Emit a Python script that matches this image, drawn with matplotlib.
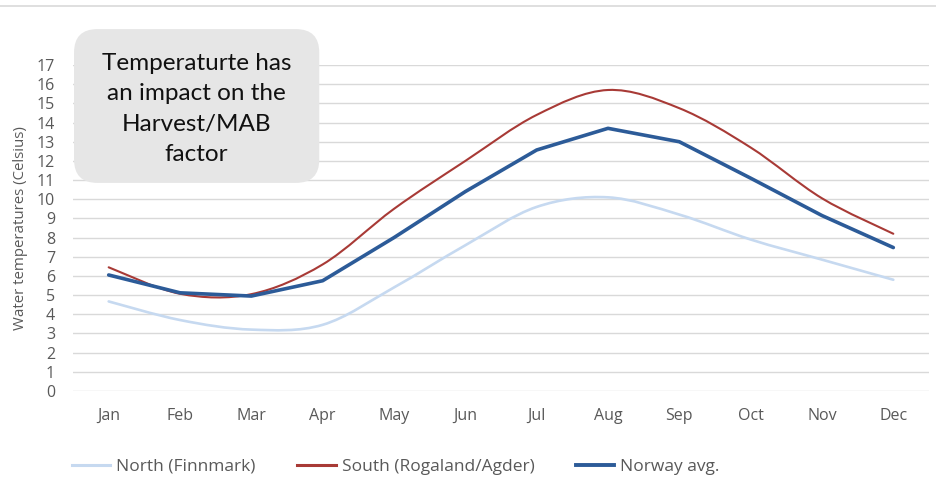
import matplotlib.pyplot as plt
import matplotlib.patches as mpatches
from matplotlib.path import Path
from matplotlib.lines import Line2D
import numpy as np

months = ['Jan', 'Feb', 'Mar', 'Apr', 'May', 'Jun', 'Jul', 'Aug', 'Sep', 'Oct', 'Nov', 'Dec']
north = [4.67, 3.7, 3.2, 3.45, 5.4, 7.6, 9.6, 10.1, 9.2, 7.9, 6.85, 5.8]
south = [6.45, 5.07, 5.05, 6.6, 9.5, 12.0, 14.4, 15.7, 14.75, 12.7, 10.05, 8.2]
norway = [6.05, 5.12, 4.95, 5.75, 8.0, 10.4, 12.57, 13.7, 13.0, 11.1, 9.15, 7.48]

c_north = '#c6d9f0'
c_south = '#a83a36'
c_norway = '#2c5b98'
grey = '#595959'

plt.rcParams['font.family'] = ['Open Sans', 'DejaVu Sans']


def smooth_path(xs, ys):
    # excel-like smoothed line: cubic bezier segments through the points
    pts = np.column_stack([xs, ys]).astype(float)
    n = len(pts)
    verts = [pts[0]]
    codes = [Path.MOVETO]
    for i in range(n - 1):
        p0 = pts[i - 1] if i > 0 else pts[i]
        p1 = pts[i]
        p2 = pts[i + 1]
        p3 = pts[i + 2] if i + 2 < n else pts[i + 1]
        c1 = p1 + (p2 - p0) / 6.0
        c2 = p2 - (p3 - p1) / 6.0
        verts += [c1, c2, p2]
        codes += [Path.CURVE4] * 3
    return Path(verts, codes)


fig = plt.figure(figsize=(9.36, 4.93), dpi=100)
ax = fig.add_axes([0.078, 0.207, 0.9145, 0.661])

x = np.arange(len(months))
ax.add_patch(mpatches.PathPatch(smooth_path(x, north), fill=False, edgecolor=c_north, lw=1.9,
                                capstyle='round', zorder=3))
ax.add_patch(mpatches.PathPatch(smooth_path(x, south), fill=False, edgecolor=c_south, lw=1.5,
                                capstyle='round', zorder=4))
ax.plot(x, norway, color=c_norway, lw=2.6, solid_capstyle='round', zorder=5)

ax.set_xlim(-0.5, 11.5)
ax.set_ylim(0, 17)
ax.set_yticks(range(0, 18))
ax.set_xticks(x)
ax.set_xticklabels(months)
ax.tick_params(axis='both', length=0, colors=grey, labelsize=11.5)
ax.tick_params(axis='x', pad=12)
ax.tick_params(axis='y', pad=13)
ax.grid(axis='y', color='#d9d9d9', lw=1)
ax.set_axisbelow(True)
for s in ax.spines.values():
    s.set_visible(False)
ax.set_ylabel('Water temperatures (Celsius)', color=grey, fontsize=10.8, labelpad=6)

# top frame line
fig.add_artist(Line2D([0, 1], [0.988, 0.988], color='#d9d9d9', lw=1.2))

# callout box
box = mpatches.FancyBboxPatch((0.0791, 0.629), 0.262, 0.312, boxstyle='round,pad=0,rounding_size=0.025',
                              transform=fig.transFigure, facecolor='#e6e6e6', edgecolor='none',
                              mutation_aspect=936 / 493, zorder=6)
fig.add_artist(box)
fig.text(0.21, 0.779, 'Temperaturte has\nan impact on the\nHarvest/MAB\nfactor', ha='center', va='center',
         fontsize=17.5, color='#111111', linespacing=1.55, family=['Lato', 'DejaVu Sans'], zorder=7)

handles = [Line2D([], [], color=c_north, lw=2.2),
           Line2D([], [], color=c_south, lw=2.2),
           Line2D([], [], color=c_norway, lw=2.8)]
fig.legend(handles, ['North (Finnmark)', 'South (Rogaland/Agder)', 'Norway avg.'],
           loc='center left', bbox_to_anchor=(0.077, 0.053), ncol=3, frameon=False,
           fontsize=12.5, labelcolor=grey, handlelength=2.2, handletextpad=0.35, columnspacing=2.4,
           borderpad=0, borderaxespad=0)

plt.savefig('out.png', dpi=100)
